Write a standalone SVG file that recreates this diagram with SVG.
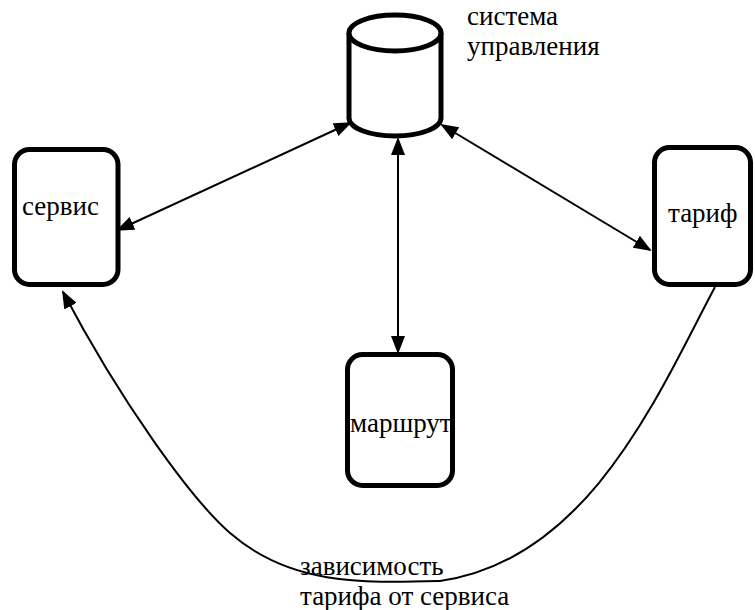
<svg xmlns="http://www.w3.org/2000/svg" width="755" height="610" viewBox="0 0 755 610">
<style>
.box{fill:#fff;stroke:#000;stroke-width:5}
.c{fill:none;stroke:#000;stroke-width:2}
.t{font-family:'Liberation Serif','Times New Roman',serif;font-size:27px;fill:#000}
</style>
<defs>
<marker id="ah" markerUnits="userSpaceOnUse" markerWidth="18" markerHeight="14" refX="16" refY="7" orient="auto-start-reverse" viewBox="0 0 18 14">
<path d="M0,0 L18,7 L0,14 Z" fill="#000"/>
</marker>
</defs>
<g id="connectors">
<line class="c" x1="118" y1="230" x2="350" y2="123" marker-start="url(#ah)" marker-end="url(#ah)"/>
<line class="c" x1="398" y1="139" x2="398" y2="352" marker-start="url(#ah)" marker-end="url(#ah)"/>
<line class="c" x1="442" y1="125" x2="650" y2="250" marker-start="url(#ah)" marker-end="url(#ah)"/>
<path class="c" d="M715,287 C660,390 590,560 440,581 C360,583 290,585 230,533 C190,498 120,400 63,292" marker-end="url(#ah)"/>
</g>
<g id="system">
<path class="box" d="M349,33 L349,118 A46,18 0 0 0 441,118 L441,33"/>
<ellipse class="box" cx="395" cy="33" rx="46" ry="18"/>
<text class="t" x="467" y="25">система</text>
<text class="t" x="467" y="55">управления</text>
</g>
<g id="service">
<rect class="box" x="14.5" y="149.5" width="103.5" height="135" rx="15"/>
<text class="t" x="22" y="215">сервис</text>
</g>
<g id="tariff">
<rect class="box" x="654.5" y="147.5" width="96" height="137" rx="15"/>
<text class="t" x="668" y="222">тариф</text>
</g>
<g id="route">
<rect class="box" x="347.5" y="354.5" width="105" height="131" rx="15"/>
<text class="t" x="350" y="432">маршрут</text>
</g>
<g id="label">
<text class="t" x="300" y="575">зависимость</text>
<text class="t" x="300" y="605">тарифа от сервиса</text>
</g>
</svg>
